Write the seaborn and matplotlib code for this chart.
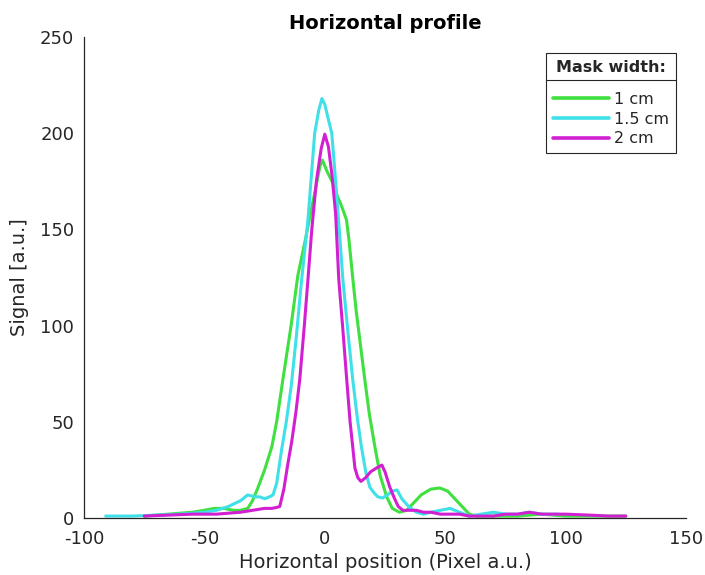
import matplotlib
matplotlib.use("Agg")
import matplotlib.pyplot as plt
import seaborn as sns
import pandas as pd
from matplotlib.lines import Line2D

# ---- data ----
x_1cm = [-75, -65, -55, -50, -46, -42, -38, -35, -32, -30, -28, -25, -22, -20, -17.4, -14,
         -11.2, -8, -6, -4, -2, -1, 0, 1, 3, 5, 7, 9, 10, 11.5, 13, 15, 16.6, 18.5, 20.8,
         23, 25.7, 28, 31, 34, 37, 40, 44, 47.8, 51, 54, 57, 60, 63, 70, 80, 90, 100, 110, 125]
y_1cm = [1, 2, 3, 4, 5, 5, 4, 4, 5, 9, 15, 25, 37, 50, 72, 100,
         126, 145, 158, 170, 183, 186, 183, 180, 175, 168, 162, 155, 145, 126, 108, 88, 72, 54, 37,
         22, 11, 5, 3, 4, 8, 12, 15, 15.6, 14, 10, 6, 2, 1, 1, 1, 2, 1, 1, 1]

x_15cm = [-91, -80, -70, -60, -50, -45, -40, -35, -32, -29, -27, -25, -23, -21.5, -20, -18,
          -16, -14, -12, -9.6, -7, -4.2, -2.5, -1.2, 0, 1.5, 2.9, 4.5, 6, 7.5, 9.5, 11.6,
          13.5, 15.2, 17, 18.7, 20.5, 22, 24, 26, 28, 30, 32, 35, 38, 41, 44, 48, 52, 56,
          60, 65, 70, 75, 80, 85, 90, 97]
y_15cm = [1, 1, 1.5, 2, 3, 4, 6, 9, 12, 11, 11, 10, 11, 12, 18, 35,
          50, 68, 92, 124, 155, 200, 212, 218, 215, 207, 200, 175, 150, 124, 98, 72,
          52, 37, 24, 16, 13, 11, 10.4, 12, 14, 14.6, 10, 5.7, 3, 2, 3, 4, 5, 3,
          1, 2, 3, 2, 2, 3, 2, 2]

x_2cm = [-75, -65, -55, -45, -40, -35, -30, -25, -22, -20, -18.7, -17, -15.5, -13.7, -12,
         -10.4, -8.5, -7, -5.4, -3.5, -1.5, 0, 1.5, 3, 4.5, 5.8, 7.5, 9.1, 10.5, 11.6, 12.5,
         13.7, 15, 17, 19, 21.5, 23.7, 25, 27, 29, 30.5, 32.4, 35, 38, 41, 44, 48, 52, 56,
         60, 65, 70, 75, 80, 85, 90, 95, 100, 110, 118, 125]
y_2cm = [1, 1.5, 2, 2, 2.5, 3, 4, 5, 5, 5.5, 6, 15, 27, 40, 55,
         72, 100, 124, 150, 175, 192, 199.5, 193, 178, 158, 124, 98, 72, 50, 37, 26,
         21, 19, 21, 24, 26, 27.5, 24, 16, 10, 6, 4, 4, 4, 3, 3, 2, 2, 2,
         1, 1, 1, 2, 2, 3, 2, 2, 2, 1.5, 1, 1]

labels = ["1 cm", "1.5 cm", "2 cm"]
colors = ["#3fe03f", "#3fe0e8", "#d21fd2"]
xticks = [-100, -50, 0, 50, 100, 150]
yticks = [0, 50, 100, 150, 200, 250]

df = pd.concat([
    pd.DataFrame({"x": x_1cm, "y": y_1cm, "w": labels[0]}),
    pd.DataFrame({"x": x_15cm, "y": y_15cm, "w": labels[1]}),
    pd.DataFrame({"x": x_2cm, "y": y_2cm, "w": labels[2]}),
], ignore_index=True)

sns.set_style("white")
plt.rcParams["font.family"] = ["DejaVu Sans"]

fig = plt.figure(figsize=(7.05, 5.75), dpi=100)
ax = fig.add_axes([84 / 705, 57 / 575, 602 / 705, 481 / 575])

palette = dict(zip(labels, colors))
sns.lineplot(data=df, x="x", y="y", hue="w", palette=palette, sort=False,
             estimator=None, linewidth=2.2, legend=False, ax=ax)

ax.set_xlim(-100, 150)
ax.set_ylim(0, 250)
ax.set_xticks(xticks)
ax.set_yticks(yticks)
ax.set_xticklabels([str(t) for t in xticks])
ax.set_yticklabels([str(t) for t in yticks])

gray = "#262626"
for s in ["top", "right"]:
    ax.spines[s].set_visible(False)
for s in ["left", "bottom"]:
    ax.spines[s].set_color(gray)
    ax.spines[s].set_linewidth(0.9)
ax.tick_params(direction="in", length=5, width=0.9, colors=gray, labelsize=13)
ax.tick_params(axis="x", pad=9)
ax.tick_params(axis="y", pad=7)

ax.set_xlabel("Horizontal position (Pixel a.u.)", fontsize=14, color=gray, labelpad=3)
ax.set_ylabel("Signal [a.u.]", fontsize=14, color=gray, labelpad=8)
ax.set_title("Horizontal profile", fontsize=14, fontweight="bold", color="black", pad=6)

handles = [Line2D([0], [0], color=c, lw=2.6) for c in colors]
leg = ax.legend(handles, labels, title="Mask width:", loc="upper right",
                bbox_to_anchor=(0.983, 0.967), fontsize=11.5, title_fontsize=11.5,
                frameon=True, fancybox=False, edgecolor=gray, framealpha=1,
                borderpad=0.45, labelspacing=0.3, handlelength=3.5, handletextpad=0.3,
                borderaxespad=0)
leg.get_title().set_fontweight("bold")
leg.get_frame().set_linewidth(0.8)
leg._legend_box.sep = 12

fig.canvas.draw()
renderer = fig.canvas.get_renderer()
lb = leg.get_window_extent(renderer)
tb = leg.get_title().get_window_extent(renderer)
ysep = tb.y0 - 5
inv = fig.transFigure.inverted()
(x0f, yf) = inv.transform((lb.x0, ysep))
(x1f, _) = inv.transform((lb.x1, ysep))
fig.add_artist(Line2D([x0f, x1f], [yf, yf], color=gray, lw=0.8, transform=fig.transFigure))

fig.savefig("out.png", dpi=100)
